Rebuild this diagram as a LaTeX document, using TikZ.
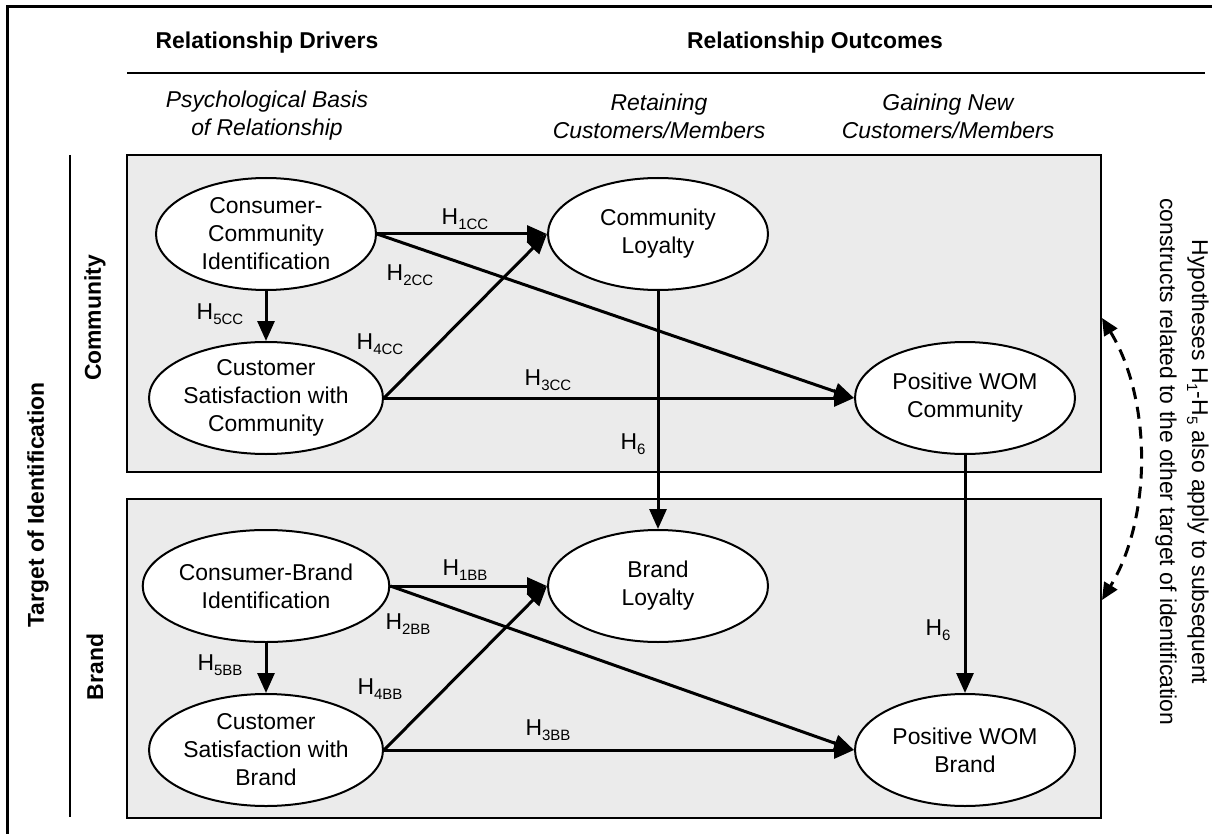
\documentclass[tikz,border=0pt]{standalone}
\usepackage{fontspec}
\setmainfont{Liberation Sans}
\usetikzlibrary{arrows.meta,shapes.geometric}
\newcommand{\basefont}{\fontsize{22.9}{28}\selectfont}
\newcommand{\hsub}[2]{#1\raisebox{-5pt}{\fontsize{15}{15}\selectfont #2}}

\begin{document}
\begin{tikzpicture}[x=1pt,y=-1pt,
                    every node/.style={font=\basefont},
                    heading/.style={font=\basefont\bfseries},
                    colhead/.style={font=\basefont\itshape,align=center},
                    construct/.style={ellipse,draw,line width=2pt,fill=white,
                      minimum width=220pt,minimum height=112pt,inner sep=0pt,align=center},
                    panel/.style={draw,line width=2.5pt,fill=black!8},
                    effect/.style={line width=3pt,-{Triangle[length=20pt,width=17pt]}},
                    hyp/.style={inner sep=0pt}]
\useasboundingbox (0,0) rectangle (1212,834);
% frame and rules
\draw [line width=3pt] (1212,7) -- (7,7) -- (7,834);
\draw [line width=2.5pt] (127,73) -- (1205,73);
\draw [line width=2.5pt] (70,155) -- (70,817);
% headings
\node [heading] (drivers) at (267,43) {Relationship Drivers};
\node [heading] (outcomes) at (815,43) {Relationship Outcomes};
\node [colhead] (basis) at (267,116) {Psychological Basis\\of Relationship};
\node [colhead] (retain) at (659,116) {Retaining\\Customers/Members};
\node [colhead] (gain) at (948,116) {Gaining New\\Customers/Members};
\node [heading,rotate=90] (target) at (38,505) {Target of Identification};
\node [heading,rotate=90] (tcomm) at (95,318) {Community};
\node [heading,rotate=90] (tbrand) at (95,667) {Brand};
% panels
\draw [panel] (127,155) rectangle (1101,472);
\draw [panel] (127,499) rectangle (1101,818);
% community constructs
\node [construct] (cci) at (266,234) {Consumer-\\Community\\Identification};
\node [construct] (csc) at (266,398) {Customer\\Satisfaction with\\Community};
\node [construct] (cl) at (658,234) {Community\\Loyalty};
\node [construct] (wc) at (965,398) {Positive WOM\\Community};
% brand constructs
\node [construct] (cbi) at (266,586) {Consumer-Brand\\Identification};
\node [construct] (csb) at (266,750) {Customer\\Satisfaction with\\Brand};
\node [construct] (bl) at (658,586) {Brand\\Loyalty};
\node [construct] (wb) at (965,750) {Positive WOM\\Brand};
% paths
\draw [effect] (cci.east) -- (cl.west);
\draw [effect] (cci.east) -- (wc.west);
\draw [effect] (csc.east) -- (wc.west);
\draw [effect] (csc.east) -- (cl.west);
\draw [effect] (cci.south) -- (csc.north);
\draw [effect] (cbi.east) -- (bl.west);
\draw [effect] (cbi.east) -- (wb.west);
\draw [effect] (csb.east) -- (wb.west);
\draw [effect] (csb.east) -- (bl.west);
\draw [effect] (cbi.south) -- (csb.north);
\draw [effect] (cl.south) -- (bl.north);
\draw [effect] (wc.south) -- (wb.north);
% hypothesis labels
\node [hyp] (h1cc) at (465,219) {\hsub{H}{1CC}};
\node [hyp] (h2cc) at (410,275) {\hsub{H}{2CC}};
\node [hyp] (h3cc) at (548,380) {\hsub{H}{3CC}};
\node [hyp] (h4cc) at (380,344) {\hsub{H}{4CC}};
\node [hyp] (h5cc) at (220,314) {\hsub{H}{5CC}};
\node [hyp] (h6c) at (633,444) {\hsub{H}{6}};
\node [hyp] (h1bb) at (465,570) {\hsub{H}{1BB}};
\node [hyp] (h2bb) at (408,624) {\hsub{H}{2BB}};
\node [hyp] (h3bb) at (548,730) {\hsub{H}{3BB}};
\node [hyp] (h4bb) at (380,689) {\hsub{H}{4BB}};
\node [hyp] (h5bb) at (220,665) {\hsub{H}{5BB}};
\node [hyp] (h6b) at (938,630) {\hsub{H}{6}};
% note on the other target
\node [rotate=-90,align=center,font=\fontsize{22.9}{32}\selectfont] (note) at (1182,462)
  {Hypotheses \hsub{H}{1}-\hsub{H}{5} also apply to subsequent\\constructs related to the other target of identification};
\coordinate (dtop) at (1102,318);
\coordinate (dbot) at (1102,600);
\draw [line width=3pt,dash pattern=on 12pt off 8pt,
       {Triangle[length=17pt,width=15pt]}-{Triangle[length=17pt,width=15pt]}]
  (dtop) .. controls (1152,400) and (1152,518) .. (dbot);
\end{tikzpicture}
\end{document}
